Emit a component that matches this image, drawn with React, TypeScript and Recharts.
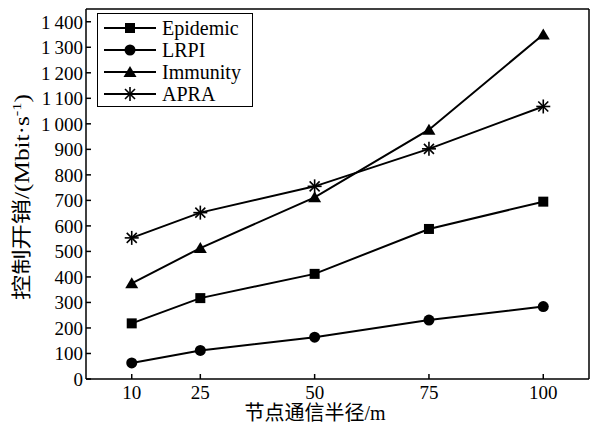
import React from 'react';
import { LineChart, Line, XAxis, YAxis, ReferenceLine, Legend } from 'recharts';

const FONT = "Liberation Serif, Times New Roman, Times, DejaVu Serif, Noto Sans CJK SC, serif";

const radii = [10, 25, 50, 75, 100];
const epidemic = [218, 317, 412, 588, 695];
const lrpi = [63, 112, 164, 231, 284];
const immunity = [375, 513, 712, 977, 1350];
const apra = [553, 652, 755, 902, 1068];
const yTicks = [0, 100, 200, 300, 400, 500, 600, 700, 800, 900, 1000, 1100, 1200, 1300, 1400];
const series = [
  { name: 'Epidemic', shape: 'square' },
  { name: 'LRPI', shape: 'circle' },
  { name: 'Immunity', shape: 'triangle' },
  { name: 'APRA', shape: 'star' },
];

const data = radii.map((r, i) => ({
  r,
  Epidemic: epidemic[i],
  LRPI: lrpi[i],
  Immunity: immunity[i],
  APRA: apra[i],
}));

// "1 400" style: thousands set apart by a small gap
const YTick = ({ x, y, payload }: any) => {
  const v: number = payload.value;
  const big = v >= 1000;
  return (
    <text x={x} y={y} dy="0.36em" textAnchor="end" fontFamily={FONT} fontSize={19} fill="#000">
      {big ? (
        <>
          {Math.floor(v / 1000)}
          <tspan dx={4}>{String(v % 1000).padStart(3, '0')}</tspan>
        </>
      ) : (
        String(v)
      )}
    </text>
  );
};

const Marker = ({ shape, cx, cy }: { shape: string; cx: number; cy: number }) => {
  if (shape === 'square') return <rect x={cx - 5} y={cy - 5} width={10} height={10} fill="#000" />;
  if (shape === 'circle') return <circle cx={cx} cy={cy} r={5.5} fill="#000" />;
  if (shape === 'triangle')
    return <polygon points={`${cx},${cy - 6} ${cx + 6.5},${cy + 5} ${cx - 6.5},${cy + 5}`} fill="#000" />;
  const s = 7;
  const d = 5;
  return (
    <g stroke="#000" strokeWidth={1.6}>
      <line x1={cx} y1={cy - s} x2={cx} y2={cy + s} />
      <line x1={cx - s} y1={cy} x2={cx + s} y2={cy} />
      <line x1={cx - d} y1={cy - d} x2={cx + d} y2={cy + d} />
      <line x1={cx - d} y1={cy + d} x2={cx + d} y2={cy - d} />
    </g>
  );
};

const makeDot = (shape: string) => (props: any) => (
  <Marker key={`${shape}-${props.index}`} shape={shape} cx={props.cx} cy={props.cy} />
);

const LegendBox = () => (
  <div
    style={{
      border: '1.5px solid #000',
      background: '#fff',
      padding: '3px 8px 1px 6px',
      fontFamily: FONT,
      fontSize: 20,
      color: '#000',
      width: 140,
    }}
  >
    {series.map((s) => (
      <div key={s.name} style={{ display: 'flex', alignItems: 'center', height: 22 }}>
        <svg width={52} height={20} style={{ flex: 'none' }}>
          <line x1={0} y1={10} x2={52} y2={10} stroke="#000" strokeWidth={2} />
          <Marker shape={s.shape} cx={26} cy={10} />
        </svg>
        <span style={{ marginLeft: 6 }}>{s.name}</span>
      </div>
    ))}
  </div>
);

const YLabel = () => (
  <text
    x={29}
    y={197}
    transform="rotate(-90 29 197)"
    textAnchor="middle"
    fontFamily={FONT}
    fontSize={20}
    fill="#000"
    textLength={206}
    lengthAdjust="spacingAndGlyphs"
  >
    控制开销/(Mbit·s
    <tspan dy={-8} fontSize={13}>-1</tspan>
    <tspan dy={8}>)</tspan>
  </text>
);

const XLabel = () => (
  <text x={315} y={420} textAnchor="middle" fontFamily={FONT} fontSize={20} fill="#000">
    节点通信半径/m
  </text>
);

export default function App() {
  return (
    <div style={{ position: 'absolute', left: 0, top: 0, background: '#fff' }}>
      <LineChart width={591} height={430} data={data} margin={{ top: 9, right: 2, bottom: 0, left: 0 }}>
        <XAxis
          dataKey="r"
          type="number"
          domain={[0, 110]}
          ticks={radii}
          height={51}
          stroke="#000"
          strokeWidth={1.5}
          tickSize={-5}
          tickMargin={12}
          tick={{ fill: '#000', fontSize: 19, fontFamily: FONT }}
          label={<XLabel />}
        />
        <YAxis
          type="number"
          domain={[0, 1450]}
          ticks={yTicks}
          width={86}
          stroke="#000"
          strokeWidth={1.5}
          tickSize={-5}
          tickMargin={8}
          interval={0}
          tick={<YTick />}
          label={<YLabel />}
        />
        <ReferenceLine y={1450} stroke="#000" strokeWidth={1.5} />
        <ReferenceLine x={110} stroke="#000" strokeWidth={1.5} />
        <Legend
          layout="horizontal"
          verticalAlign="middle"
          align="center"
          content={<LegendBox />}
          wrapperStyle={{ left: 97, top: 13, width: 'auto' }}
        />
        {series.map((s) => (
          <Line
            key={s.name}
            dataKey={s.name}
            stroke="#000"
            strokeWidth={2}
            dot={makeDot(s.shape)}
            activeDot={false}
            isAnimationActive={false}
          />
        ))}
      </LineChart>
    </div>
  );
}
